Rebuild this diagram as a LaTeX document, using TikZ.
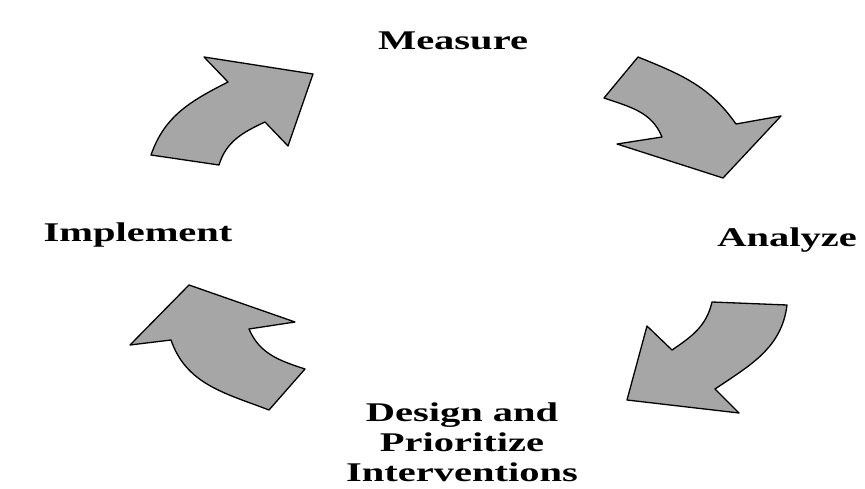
\documentclass[tikz,border=0pt]{standalone}
\usepackage{fontspec}
\setmainfont{Liberation Serif}
\usepackage{tikz}
\usetikzlibrary{positioning}
\definecolor{arrowgray}{HTML}{A6A6A6}

\tikzset{
    cyclearrow/.style={draw=black,line width=1.3pt,fill=arrowgray,line join=round},
    steplabel/.style={font=\fontsize{27}{30}\selectfont\bfseries,xscale=1.5,align=center,inner sep=0pt}
}

\begin{document}
\begin{tikzpicture}[x=1pt,y=-1pt]
    \useasboundingbox (0,0) rectangle (865,489);

    \node[steplabel,anchor=base] (measure) at (453,50) {Measure};
    \node[steplabel,anchor=base] (analyze) at (787,247) {Analyze};
    \node[steplabel,anchor=base] (implement) at (138,242) {Implement};
    \node[steplabel,anchor=north] (design) at (462,403) {Design and\\Prioritize\\Interventions};

    \draw[cyclearrow] (151,155) -- (219,165) to[out=73,in=205] (265,122) -- (288,146) -- (313,74)
        -- (204,57) -- (228,82) to[out=207,in=71] cycle;
    \draw[cyclearrow] (604,98) -- (638,57) to[out=-22,in=125] (736,124) -- (781,116) -- (723,178)
        -- (617,144) -- (662,137) to[out=112,in=-19] cycle;
    \draw[cyclearrow] (712,302) -- (787,305) to[out=263,in=34] (715,389) -- (739,413) -- (627,400)
        -- (647,326) -- (672,350) to[out=34,in=257] cycle;
    \draw[cyclearrow] (305,369) -- (269,410) to[out=159,in=-71] (171,340) -- (130,345) -- (189,285)
        -- (295,322) -- (249,329) to[out=-67,in=162] cycle;
\end{tikzpicture}
\end{document}
